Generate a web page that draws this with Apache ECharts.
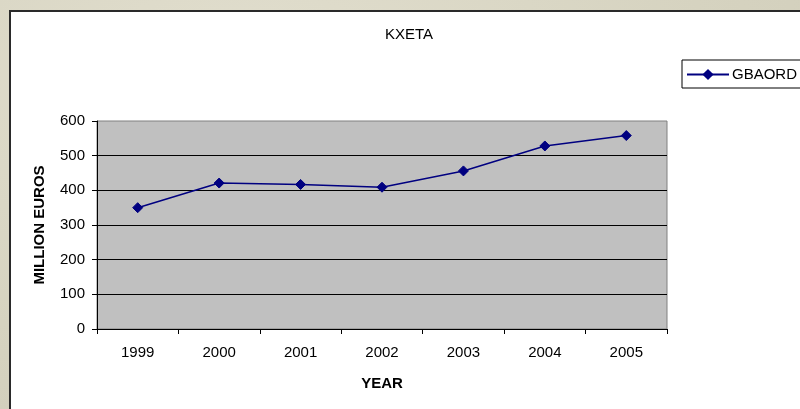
<!DOCTYPE html>
<html>
<head>
<meta charset="utf-8">
<script src="https://cdn.jsdelivr.net/npm/echarts@6/dist/echarts.min.js"></script>
<style>
  html, body { margin: 0; padding: 0; }
  body {
    width: 800px; height: 409px; overflow: hidden; position: relative;
    background: radial-gradient(ellipse at 30% 20%, #e2dfcf 0%, #d6d3c0 60%, #cfccb9 100%);
  }
  #panel {
    position: absolute; left: 9px; top: 10px; width: 800px; height: 409px;
    background: #ffffff; border-left: 2px solid #2a2a2a; border-top: 2px solid #2a2a2a;
  }
  #chart { position: absolute; left: 0; top: 0; width: 800px; height: 409px; }
</style>
</head>
<body>
<div id="panel"></div>
<div id="chart"></div>
<script>
// GBAORD in million euros, per year
const years = ['1999', '2000', '2001', '2002', '2003', '2004', '2005'];
const gbaord = [350, 421, 417, 409, 456, 528, 558];
const yTicks = [0, 100, 200, 300, 400, 500, 600];

const font = '"Liberation Sans", Arial, sans-serif';
const chart = echarts.init(document.getElementById('chart'), null, { renderer: 'canvas' });

chart.setOption({
  backgroundColor: 'transparent',
  animation: false,
  title: {
    text: 'KXETA', left: 385, top: 27, padding: 0,
    textStyle: { fontFamily: font, fontSize: 15, fontWeight: 'normal', color: '#000' }
  },
  legend: {
    left: 682, top: 60, padding: [7, 12, 6, 4],
    borderColor: '#000', borderWidth: 1, backgroundColor: '#fff',
    itemWidth: 42, itemHeight: 14,
    textStyle: { fontFamily: font, fontSize: 15, color: '#000', padding: [0, 0, 0, -2] },
    data: ['GBAORD']
  },
  grid: {
    left: 97, right: 133, top: 121, bottom: 80,
    show: true, backgroundColor: '#c0c0c0', borderColor: '#808080', borderWidth: 1
  },
  xAxis: {
    type: 'category', data: years, boundaryGap: true,
    name: 'YEAR', nameLocation: 'middle', nameGap: 47,
    nameTextStyle: { fontFamily: font, fontSize: 15, fontWeight: 'bold', color: '#000' },
    axisLine: { lineStyle: { color: '#000', width: 1 } },
    axisTick: { show: true, length: 5, inside: false, lineStyle: { color: '#000' } },
    axisLabel: { fontFamily: font, fontSize: 15, color: '#000', margin: 16 }
  },
  yAxis: {
    type: 'value', min: yTicks[0], max: yTicks[yTicks.length - 1], interval: 100,
    name: 'MILLION EUROS', nameLocation: 'middle', nameRotate: 90, nameGap: 50,
    nameTextStyle: { fontFamily: font, fontSize: 15, fontWeight: 'bold', color: '#000' },
    axisLine: { show: true, lineStyle: { color: '#000', width: 1 } },
    axisTick: { show: true, length: 5, lineStyle: { color: '#000' } },
    axisLabel: { fontFamily: font, fontSize: 15, color: '#000', margin: 12 },
    splitLine: { show: true, showMaxLine: false, lineStyle: { color: '#000', width: 1 } }
  },
  series: [{
    name: 'GBAORD', type: 'line', data: gbaord,
    symbol: 'diamond', symbolSize: 10,
    lineStyle: { color: '#000080', width: 1.5 },
    itemStyle: { color: '#000080', borderColor: '#000080' }
  }]
});
</script>
</body>
</html>
